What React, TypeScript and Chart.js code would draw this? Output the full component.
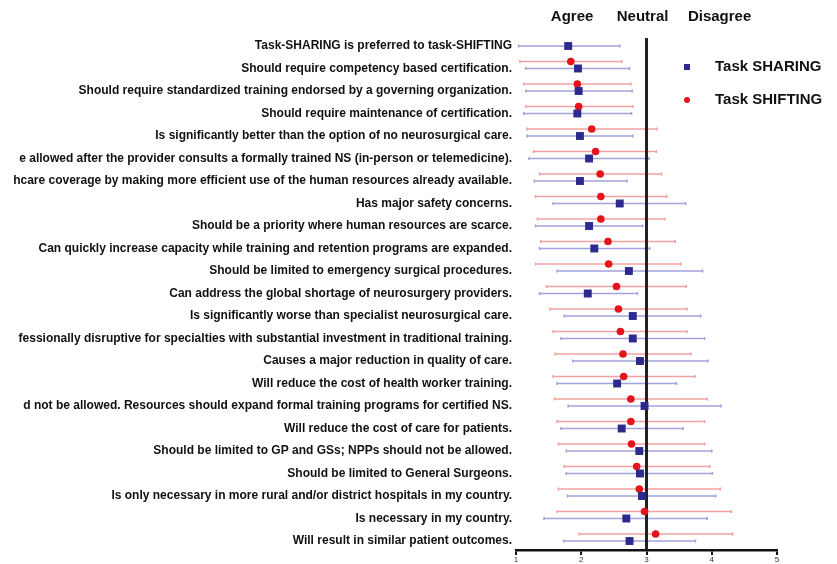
import React, { useEffect, useRef } from "react";
import { Chart, registerables } from "chart.js";

Chart.register(...registerables);

const rowLabels = [
  "Task-SHARING is preferred to task-SHIFTING",
  "Should require competency based certification.",
  "Should require standardized training endorsed by a governing organization.",
  "Should require maintenance of certification.",
  "Is significantly better than the option of no neurosurgical care.",
  "e allowed after the provider consults a formally trained NS (in-person or telemedicine).",
  "hcare coverage by making more efficient use of the human resources already available.",
  "Has major safety concerns.",
  "Should be a priority where human resources are scarce.",
  "Can quickly increase capacity while training and retention programs are expanded.",
  "Should be limited to emergency surgical procedures.",
  "Can address the global shortage of neurosurgery providers.",
  "Is significantly worse than specialist neurosurgical care.",
  "fessionally disruptive for specialties with substantial investment in traditional training.",
  "Causes a major reduction in quality of care.",
  "Will reduce the cost of health worker training.",
  "d not be allowed. Resources should expand formal training programs for certified NS.",
  "Will reduce the cost of care for patients.",
  "Should be limited to GP and GSs; NPPs should not be allowed.",
  "Should be limited to General Surgeons.",
  "Is only necessary in more rural and/or district hospitals in my country.",
  "Is necessary in my country.",
  "Will result in similar patient outcomes.",
];

const sharingMean = [1.80, 1.95, 1.96, 1.94, 1.98, 2.12, 1.98, 2.59, 2.12, 2.20, 2.73, 2.10, 2.79, 2.79, 2.90, 2.55, 2.97, 2.62, 2.89, 2.90, 2.93, 2.69, 2.74];
const sharingLow = [1.04, 1.15, 1.15, 1.12, 1.17, 1.20, 1.28, 1.57, 1.30, 1.36, 1.63, 1.36, 1.74, 1.69, 1.87, 1.63, 1.80, 1.69, 1.77, 1.77, 1.79, 1.43, 1.73];
const sharingHigh = [2.59, 2.74, 2.78, 2.77, 2.79, 3.04, 2.70, 3.60, 2.94, 3.05, 3.86, 2.86, 3.83, 3.89, 3.94, 3.46, 4.14, 3.56, 4.00, 4.01, 4.06, 3.93, 3.75];

const shiftingMean = [null, 1.84, 1.94, 1.96, 2.16, 2.22, 2.29, 2.30, 2.30, 2.41, 2.42, 2.54, 2.57, 2.60, 2.64, 2.65, 2.76, 2.76, 2.77, 2.85, 2.89, 2.97, 3.14];
const shiftingLow = [null, 1.06, 1.12, 1.15, 1.17, 1.27, 1.36, 1.30, 1.33, 1.38, 1.30, 1.47, 1.52, 1.57, 1.60, 1.57, 1.59, 1.63, 1.65, 1.74, 1.65, 1.63, 1.97];
const shiftingHigh = [null, 2.62, 2.76, 2.79, 3.16, 3.15, 3.23, 3.31, 3.28, 3.44, 3.53, 3.61, 3.62, 3.62, 3.68, 3.74, 3.93, 3.89, 3.89, 3.97, 4.13, 4.30, 4.32];

const xTicks = [1, 2, 3, 4, 5];
const neutralValue = 3;
const headerLabels = ["Agree", "Neutral", "Disagree"];
const headerValues = [1.86, 2.94, 4.12];
const seriesNames = ["Task SHARING", "Task SHIFTING"];

const SHIFT_OFFSET = 0.31;
const SHARING_COLOR = "#2d2a8e";
const SHARING_BAR = "#a3a3dc";
const SHIFTING_COLOR = "#e3151b";
const SHIFTING_BAR = "#f3a2a2";
const FONT = "'Liberation Sans', Arial, sans-serif";

export default function App() {
  const ref = useRef<HTMLCanvasElement>(null);

  useEffect(() => {
    if (!ref.current) return;

    const errorBars = {
      id: "errorBars",
      beforeDatasetsDraw(chart: any) {
        const { ctx, scales, chartArea } = chart;
        const x = scales.x;
        const y = scales.y;
        const draw = (means: any[], lows: any[], highs: any[], offset: number, color: string) => {
          ctx.save();
          ctx.strokeStyle = color;
          ctx.lineWidth = 1.6;
          means.forEach((m, i) => {
            if (m == null) return;
            const py = y.getPixelForValue(i - offset);
            const x1 = x.getPixelForValue(lows[i]);
            const x2 = x.getPixelForValue(highs[i]);
            ctx.beginPath();
            ctx.moveTo(x1, py);
            ctx.lineTo(x2, py);
            ctx.moveTo(x1, py - 1.5);
            ctx.lineTo(x1, py + 1.5);
            ctx.moveTo(x2, py - 1.5);
            ctx.lineTo(x2, py + 1.5);
            ctx.stroke();
          });
          ctx.restore();
        };
        draw(shiftingMean, shiftingLow, shiftingHigh, SHIFT_OFFSET, SHIFTING_BAR);
        draw(sharingMean, sharingLow, sharingHigh, 0, SHARING_BAR);

        // neutral reference line
        const nx = x.getPixelForValue(neutralValue);
        ctx.save();
        ctx.strokeStyle = "#222";
        ctx.lineWidth = 3;
        ctx.beginPath();
        ctx.moveTo(nx, chartArea.top + 1);
        ctx.lineTo(nx, chartArea.bottom);
        ctx.stroke();
        ctx.restore();
      },
      afterDraw(chart: any) {
        const { ctx, scales } = chart;
        const x = scales.x;
        ctx.save();
        ctx.fillStyle = "#111";
        ctx.font = `bold 15px ${FONT}`;
        ctx.textAlign = "center";
        ctx.textBaseline = "middle";
        headerLabels.forEach((t, i) => {
          ctx.fillText(t, x.getPixelForValue(headerValues[i]), 17);
        });
        // legend
        const lx = 687;
        const rows = [67, 100];
        ctx.fillStyle = SHARING_COLOR;
        ctx.fillRect(lx - 3, rows[0] - 3, 6, 6);
        ctx.fillStyle = SHIFTING_COLOR;
        ctx.beginPath();
        ctx.arc(lx, rows[1], 3, 0, Math.PI * 2);
        ctx.fill();
        ctx.fillStyle = "#111";
        ctx.textAlign = "left";
        ctx.font = `bold 15px ${FONT}`;
        seriesNames.forEach((t, i) => ctx.fillText(t, 715, rows[i]));
        ctx.restore();
      },
    };

    const chart = new Chart(ref.current, {
      type: "scatter",
      data: {
        datasets: [
          {
            label: seriesNames[0],
            data: sharingMean.map((m, i) => ({ x: m, y: i })),
            pointStyle: "rect",
            pointRadius: 5.6,
            backgroundColor: SHARING_COLOR,
            borderColor: SHARING_COLOR,
            borderWidth: 0,
          },
          {
            label: seriesNames[1],
            data: shiftingMean
              .map((m, i) => (m == null ? null : { x: m, y: i - SHIFT_OFFSET }))
              .filter((d) => d != null) as any,
            pointStyle: "circle",
            pointRadius: 3.8,
            backgroundColor: SHIFTING_COLOR,
            borderColor: SHIFTING_COLOR,
            borderWidth: 0,
          },
        ],
      },
      options: {
        animation: false,
        responsive: true,
        maintainAspectRatio: false,
        layout: { padding: { top: 37, right: 60, left: 0, bottom: 0 } },
        plugins: {
          legend: { display: false },
          tooltip: { enabled: false },
        },
        scales: {
          x: {
            type: "linear",
            min: 1,
            max: 5,
            afterBuildTicks: (scale: any) => {
              scale.ticks = xTicks.map((v) => ({ value: v }));
            },
            afterFit: (scale: any) => {
              scale.height = 14;
            },
            grid: {
              display: true,
              drawOnChartArea: false,
              drawTicks: true,
              tickLength: 5,
              color: "#111",
              lineWidth: 2,
            },
            border: { display: true, color: "#111", width: 2.5 },
            ticks: {
              font: { size: 8, family: FONT },
              color: "#333",
              padding: 0,
            },
          },
          y: {
            type: "linear",
            reverse: true,
            min: -0.4,
            max: 22.4,
            afterBuildTicks: (scale: any) => {
              scale.ticks = rowLabels.map((_, i) => ({ value: i }));
            },
            afterFit: (scale: any) => {
              scale.width = 516;
            },
            grid: { display: false, drawTicks: false },
            border: { display: false },
            ticks: {
              autoSkip: false,
              padding: 4,
              color: "#111",
              font: { size: 12, weight: "bold", family: FONT },
              callback: (v: any) => rowLabels[Math.round(v)] ?? "",
            },
          },
        },
      },
      plugins: [errorBars],
    });

    return () => chart.destroy();
  }, []);

  return (
    <div style={{ position: "fixed", left: 0, top: 0, width: 837, height: 564, background: "#fff" }}>
      <canvas ref={ref} />
    </div>
  );
}
